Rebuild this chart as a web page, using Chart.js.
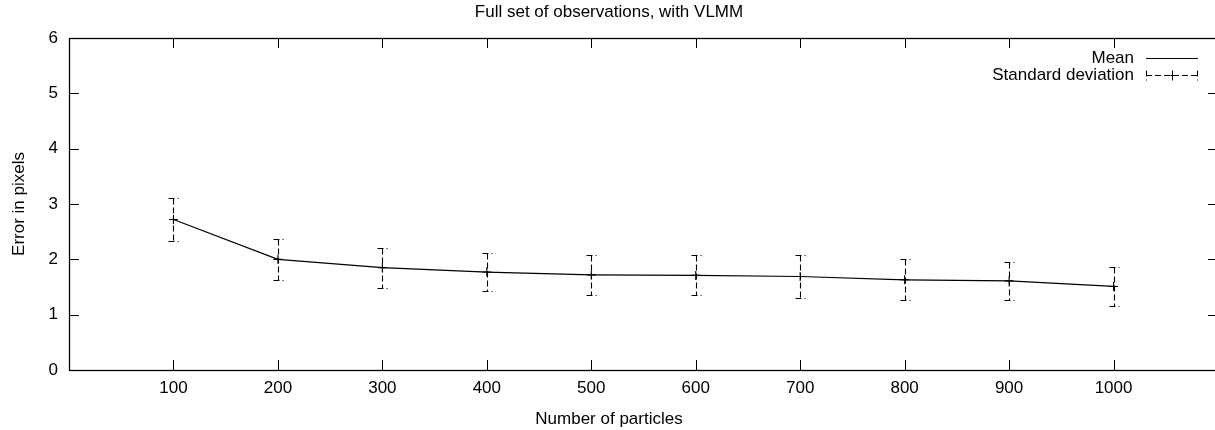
<!DOCTYPE html>
<html>
<head>
<meta charset="utf-8">
<script src="https://cdn.jsdelivr.net/npm/chart.js@4.4.1/dist/chart.umd.min.js"></script>
<style>
  html, body { margin: 0; padding: 0; background: #fff; overflow: hidden; }
  /* the plot frame extends just past the visible right edge */
  #wrap { width: 1215px; height: 430px; overflow: hidden; position: relative; }
  #chart { display: block; }
</style>
</head>
<body>
<div id="wrap"><canvas id="chart" width="1224" height="430"></canvas></div>
<script>
// Particle counts on the x axis
const particles = [100, 200, 300, 400, 500, 600, 700, 800, 900, 1000];
// Mean tracking error (pixels)
const meanError = [2.72, 2.00, 1.85, 1.77, 1.72, 1.71, 1.69, 1.63, 1.61, 1.51];
// Standard deviation of the error (pixels)
const stdDev = [0.38, 0.37, 0.36, 0.35, 0.36, 0.36, 0.38, 0.37, 0.35, 0.36];
// Tick labels
const xTickValues = [100, 200, 300, 400, 500, 600, 700, 800, 900, 1000];
const yTickValues = [0, 1, 2, 3, 4, 5, 6];

const FONT = 'Liberation Sans, Arial, Helvetica, sans-serif';
const FONT_SIZE = 17;
const INK = '#000';
const TICK_LEN = 10;

// Frame with inward tick marks on all four sides
const framePlugin = {
  id: 'frame',
  afterDraw(chart) {
    const { ctx, chartArea: a, scales: { x, y } } = chart;
    ctx.save();
    ctx.strokeStyle = INK;
    ctx.lineWidth = 1;
    ctx.setLineDash([]);
    ctx.beginPath();
    xTickValues.forEach(v => {
      const px = Math.round(x.getPixelForValue(v)) + 0.5;
      ctx.moveTo(px, a.bottom); ctx.lineTo(px, a.bottom - TICK_LEN);
      ctx.moveTo(px, a.top); ctx.lineTo(px, a.top + TICK_LEN);
    });
    yTickValues.forEach(v => {
      const py = Math.round(y.getPixelForValue(v)) + 0.5;
      ctx.moveTo(a.left, py); ctx.lineTo(a.left + TICK_LEN, py);
      ctx.moveTo(a.right, py); ctx.lineTo(a.right - TICK_LEN, py);
    });
    ctx.stroke();
    ctx.lineWidth = 1.3;
    ctx.strokeRect(a.left + 0.5, a.top + 0.5, a.right - a.left, a.bottom - a.top);
    ctx.restore();
  }
};

// Dashed error bars (mean ± standard deviation) with capped ends
function drawErrorBar(ctx, px, yTop, yBottom, cap) {
  ctx.setLineDash([6, 3]);
  ctx.beginPath();
  ctx.moveTo(px, yTop); ctx.lineTo(px, yBottom);
  ctx.moveTo(px - cap, yTop); ctx.lineTo(px + cap, yTop);
  ctx.moveTo(px - cap, yBottom); ctx.lineTo(px + cap, yBottom);
  ctx.stroke();
}

const errorBarPlugin = {
  id: 'errorBars',
  afterDatasetsDraw(chart) {
    const { ctx, scales: { x, y } } = chart;
    ctx.save();
    ctx.strokeStyle = INK;
    ctx.lineWidth = 1.1;
    particles.forEach((p, i) => {
      const px = Math.round(x.getPixelForValue(p)) + 0.5;
      const yTop = Math.round(y.getPixelForValue(meanError[i] + stdDev[i])) + 0.5;
      const yBottom = Math.round(y.getPixelForValue(meanError[i] - stdDev[i])) + 0.5;
      drawErrorBar(ctx, px, yTop, yBottom, 5);
    });
    ctx.restore();
  }
};

// Key in the upper right corner: label text to the left of its sample
const keyPlugin = {
  id: 'key',
  afterDraw(chart) {
    const { ctx } = chart;
    const textRight = 1134, x0 = 1146, x1 = 1198;
    const rows = [
      { label: 'Mean', y: 58.5, kind: 'line' },
      { label: 'Standard deviation', y: 75.5, kind: 'err' }
    ];
    ctx.save();
    ctx.fillStyle = INK;
    ctx.strokeStyle = INK;
    ctx.lineWidth = 1;
    ctx.font = FONT_SIZE + 'px ' + FONT;
    ctx.textAlign = 'right';
    ctx.textBaseline = 'middle';
    rows.forEach(r => {
      ctx.fillText(r.label, textRight, r.y);
      if (r.kind === 'line') {
        ctx.setLineDash([]);
        ctx.beginPath();
        ctx.moveTo(x0, r.y); ctx.lineTo(x1, r.y);
        ctx.stroke();
      } else {
        ctx.setLineDash([6, 3]);
        ctx.beginPath();
        ctx.moveTo(x0, r.y); ctx.lineTo(x1, r.y);
        ctx.moveTo(x0 + 0.5, r.y - 5); ctx.lineTo(x0 + 0.5, r.y + 5);
        ctx.moveTo(x1 - 0.5, r.y - 5); ctx.lineTo(x1 - 0.5, r.y + 5);
        ctx.stroke();
        const cx = Math.round((x0 + x1) / 2) + 0.5;
        ctx.setLineDash([]);
        ctx.beginPath();
        ctx.moveTo(cx - 5, r.y); ctx.lineTo(cx + 5, r.y);
        ctx.moveTo(cx, r.y - 5); ctx.lineTo(cx, r.y + 5);
        ctx.stroke();
      }
    });
    ctx.restore();
  }
};

new Chart(document.getElementById('chart'), {
  type: 'line',
  data: {
    datasets: [{
      label: 'Mean',
      data: particles.map((p, i) => ({ x: p, y: meanError[i] })),
      borderColor: INK,
      borderWidth: 1.2,
      pointStyle: 'cross',
      pointRadius: 4.5,
      pointBorderWidth: 1.1,
      pointBorderColor: INK,
      pointBackgroundColor: INK,
      tension: 0,
      fill: false
    }]
  },
  options: {
    responsive: false,
    devicePixelRatio: 1,
    animation: false,
    events: [],
    layout: { padding: { left: 0, right: 6, top: 0, bottom: 0 } },
    scales: {
      x: {
        type: 'linear',
        position: 'bottom',
        min: 0,
        max: 1100,
        grid: { display: false, drawTicks: false },
        border: { display: false },
        afterBuildTicks: s => { s.ticks = xTickValues.map(v => ({ value: v })); },
        afterFit: s => { s.height = 39.6; },
        ticks: {
          padding: 8,
          color: INK,
          autoSkip: false,
          maxRotation: 0,
          callback: v => String(v),
          font: { family: FONT, size: FONT_SIZE }
        }
      },
      y: {
        type: 'linear',
        min: 0,
        max: 6,
        grid: { display: false, drawTicks: false },
        border: { display: false },
        afterBuildTicks: s => { s.ticks = yTickValues.map(v => ({ value: v })); },
        afterFit: s => { s.width = 69; },
        ticks: {
          padding: 11,
          color: INK,
          callback: v => String(v),
          font: { family: FONT, size: FONT_SIZE }
        },
        title: {
          display: true,
          text: 'Error in pixels',
          color: INK,
          padding: { top: 9, bottom: 0 },
          font: { family: FONT, size: FONT_SIZE }
        }
      }
    },
    plugins: {
      legend: { display: false },
      tooltip: { enabled: false },
      title: {
        display: true,
        text: 'Full set of observations, with VLMM',
        color: INK,
        padding: { top: 2, bottom: 15.6 },
        font: { family: FONT, size: FONT_SIZE, weight: 'normal', lineHeight: 1.2 }
      },
      subtitle: {
        display: true,
        position: 'bottom',
        text: 'Number of particles',
        color: INK,
        padding: { top: 0, bottom: 0 },
        font: { family: FONT, size: FONT_SIZE, weight: 'normal', lineHeight: 1.2 }
      }
    }
  },
  plugins: [framePlugin, errorBarPlugin, keyPlugin]
});
</script>
</body>
</html>
